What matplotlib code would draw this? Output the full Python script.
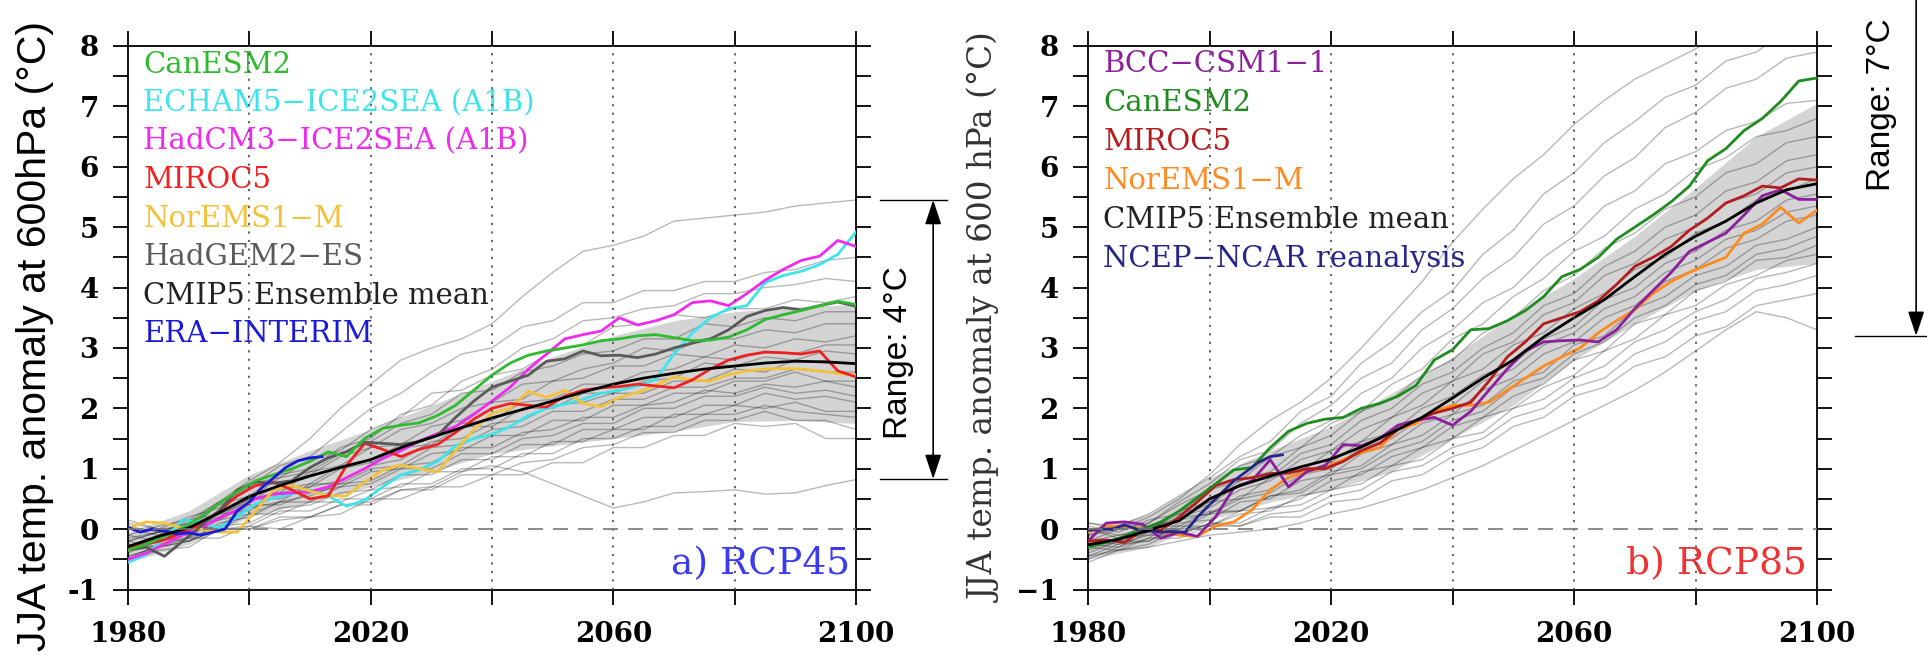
import matplotlib.pyplot as plt
from matplotlib.ticker import MultipleLocator

plt.rcParams['font.family'] = 'DejaVu Serif'

years = list(range(1980, 2101, 3))
years5 = list(range(1980, 2101, 5))
years10 = list(range(1980, 2101, 10))
obs_years = list(range(1980, 2013, 2))

# ---- a) RCP45 ----
a_canesm2 = [-0.35, -0.25, -0.12, 0.02, 0.2, 0.42, 0.62, 0.8, 0.9, 1.0, 1.12, 1.28, 1.2, 1.5, 1.67, 1.72,
             1.76, 1.88, 2.05, 2.3, 2.55, 2.75, 2.88, 2.95, 3.0, 3.05, 3.12, 3.15, 3.2, 3.22, 3.17, 3.12,
             3.13, 3.18, 3.3, 3.47, 3.55, 3.62, 3.7, 3.77, 3.72]
a_echam5 = [-0.55, -0.42, -0.15, 0.15, 0.12, 0.02, 0.2, 0.42, 0.52, 0.58, 0.65, 0.55, 0.38, 0.48, 0.7, 0.9,
            0.98, 1.12, 1.38, 1.5, 1.57, 1.7, 1.88, 2.0, 2.07, 2.15, 2.25, 2.3, 2.37, 2.48, 2.9, 3.25,
            3.5, 3.65, 3.7, 4.08, 4.2, 4.27, 4.38, 4.55, 4.92]
a_hadcm3 = [-0.5, -0.4, -0.25, -0.1, 0.02, 0.18, 0.32, 0.5, 0.58, 0.6, 0.62, 0.7, 0.85, 1.0, 1.17, 1.3,
            1.46, 1.58, 1.7, 1.9, 2.12, 2.35, 2.65, 2.9, 3.15, 3.22, 3.28, 3.5, 3.38, 3.45, 3.55, 3.75,
            3.78, 3.7, 3.9, 4.12, 4.3, 4.45, 4.52, 4.78, 4.68]
a_miroc5 = [-0.3, -0.25, -0.18, -0.05, 0.08, 0.3, 0.55, 0.72, 0.78, 0.65, 0.5, 0.55, 1.05, 1.42, 1.32, 1.2,
            1.32, 1.4, 1.6, 1.82, 2.0, 2.08, 2.05, 2.02, 2.2, 2.3, 2.34, 2.36, 2.4, 2.37, 2.34, 2.47,
            2.65, 2.8, 2.88, 2.93, 2.92, 2.9, 2.95, 2.62, 2.52]
a_noresm = [0.02, 0.12, 0.1, 0.02, 0.0, -0.05, -0.05, 0.3, 0.65, 0.72, 0.63, 0.55, 0.55, 0.78, 0.98, 1.06,
            1.0, 0.95, 1.3, 1.65, 1.92, 2.0, 2.28, 2.18, 2.3, 2.08, 2.03, 2.18, 2.26, 2.38, 2.52, 2.47,
            2.45, 2.56, 2.62, 2.65, 2.66, 2.65, 2.62, 2.58, 2.55]
a_hadgem2 = [-0.35, -0.3, -0.45, -0.2, 0.05, 0.3, 0.65, 0.78, 0.76, 0.8, 1.02, 1.18, 1.28, 1.44, 1.42, 1.4,
             1.45, 1.55, 1.85, 2.12, 2.35, 2.45, 2.55, 2.78, 2.82, 2.95, 2.87, 2.88, 2.84, 2.9, 3.0, 3.08,
             3.15, 3.3, 3.52, 3.62, 3.67, 3.63, 3.7, 3.76, 3.69]
a_era = [0.03, -0.05, 0.0, -0.03, -0.08, -0.06, -0.1, -0.05, 0.0, 0.3, 0.45, 0.68, 0.85, 1.02, 1.13, 1.18, 1.2]
a_mean = [-0.29, -0.12, 0.02, 0.27, 0.54, 0.72, 0.88, 1.02, 1.15, 1.35, 1.52, 1.68, 1.84, 1.98, 2.12, 2.27,
          2.4, 2.5, 2.58, 2.65, 2.7, 2.75, 2.78, 2.77, 2.74]
a_band_low = [-0.55, -0.25, 0.2, 0.45, 0.7, 0.95, 1.25, 1.38, 1.5, 1.62, 1.78, 1.8, 1.75]
a_band_high = [-0.05, 0.3, 0.9, 1.3, 1.65, 2.05, 2.45, 2.85, 3.2, 3.45, 3.6, 3.68, 3.72]
a_models = [
    [-0.2, -0.05, 0.1, 0.45, 0.8, 1.1, 1.5, 2.0, 2.4, 2.8, 3.0, 3.15, 3.4, 3.85, 4.25, 4.6, 4.7, 4.85, 5.1, 5.15, 5.2, 5.25, 5.35, 5.4, 5.45],
    [-0.1, 0.05, 0.15, 0.45, 0.7, 1.05, 1.2, 1.6, 2.0, 2.25, 2.6, 2.9, 3.0, 3.35, 3.45, 3.75, 3.75, 3.95, 3.95, 4.1, 4.1, 4.25, 4.3, 4.45, 4.5],
    [-0.3, -0.1, 0.0, 0.4, 0.55, 0.9, 1.0, 1.35, 1.5, 1.9, 2.05, 2.45, 2.65, 3.0, 3.15, 3.45, 3.5, 3.65, 3.7, 3.9, 3.9, 4.0, 4.05, 4.15, 4.1],
    [0.1, 0.0, 0.2, 0.35, 0.75, 0.85, 1.15, 1.3, 1.65, 1.85, 2.25, 2.3, 2.55, 2.65, 2.95, 3.05, 3.35, 3.4, 3.55, 3.5, 3.65, 3.65, 3.8, 3.75, 3.85],
    [-0.4, -0.15, -0.05, 0.3, 0.5, 0.85, 0.95, 1.25, 1.45, 1.75, 1.9, 2.25, 2.3, 2.6, 2.7, 2.9, 2.95, 3.15, 3.15, 3.4, 3.35, 3.5, 3.45, 3.6, 3.6],
    [-0.2, -0.05, 0.0, 0.25, 0.45, 0.75, 0.9, 1.2, 1.35, 1.65, 1.75, 2.0, 2.1, 2.4, 2.45, 2.65, 2.75, 3.0, 2.95, 3.15, 3.15, 3.3, 3.25, 3.4, 3.4],
    [0.0, -0.1, 0.15, 0.25, 0.5, 0.6, 0.95, 1.05, 1.35, 1.4, 1.7, 1.8, 2.1, 2.15, 2.45, 2.5, 2.7, 2.7, 2.9, 2.85, 3.05, 3.0, 3.15, 3.1, 3.2],
    [-0.5, -0.25, -0.15, 0.2, 0.35, 0.65, 0.75, 1.05, 1.15, 1.4, 1.5, 1.75, 1.8, 2.1, 2.15, 2.4, 2.4, 2.6, 2.65, 2.85, 2.8, 2.95, 2.9, 3.05, 3.05],
    [-0.3, -0.15, -0.05, 0.25, 0.3, 0.6, 0.7, 1.0, 1.1, 1.35, 1.4, 1.7, 1.7, 2.0, 2.0, 2.25, 2.25, 2.45, 2.5, 2.75, 2.7, 2.85, 2.8, 2.95, 2.9],
    [-0.1, -0.2, 0.05, 0.2, 0.5, 0.5, 0.7, 0.8, 1.05, 1.15, 1.45, 1.5, 1.75, 1.8, 2.05, 2.1, 2.25, 2.25, 2.45, 2.45, 2.65, 2.6, 2.8, 2.75, 2.75],
    [-0.25, -0.3, 0.0, 0.05, 0.35, 0.45, 0.75, 0.75, 1.0, 1.05, 1.35, 1.4, 1.65, 1.7, 1.95, 1.95, 2.15, 2.15, 2.35, 2.35, 2.5, 2.5, 2.65, 2.6, 2.6],
    [0.05, -0.05, 0.1, 0.15, 0.4, 0.4, 0.6, 0.7, 0.95, 1.0, 1.25, 1.3, 1.55, 1.55, 1.8, 1.8, 2.05, 2.05, 2.25, 2.25, 2.45, 2.45, 2.6, 2.45, 2.45],
    [-0.45, -0.3, -0.2, 0.1, 0.2, 0.45, 0.55, 0.75, 0.8, 1.05, 1.1, 1.35, 1.35, 1.6, 1.65, 1.85, 1.85, 2.05, 2.1, 2.3, 2.25, 2.4, 2.35, 2.45, 2.35],
    [-0.15, -0.05, -0.1, 0.15, 0.25, 0.45, 0.45, 0.7, 0.75, 1.0, 1.0, 1.25, 1.25, 1.5, 1.55, 1.75, 1.75, 2.0, 2.0, 2.2, 2.2, 2.35, 2.25, 2.3, 2.2],
    [-0.35, -0.15, -0.15, 0.05, 0.1, 0.35, 0.4, 0.6, 0.65, 0.9, 0.9, 1.15, 1.15, 1.4, 1.4, 1.65, 1.65, 1.85, 1.85, 2.05, 2.05, 2.25, 2.15, 2.2, 2.1],
    [0.15, 0.0, 0.05, 0.0, 0.25, 0.25, 0.45, 0.45, 0.65, 0.7, 0.95, 0.95, 1.2, 1.2, 1.45, 1.45, 1.65, 1.65, 1.9, 1.9, 2.05, 2.0, 2.1, 1.95, 1.95],
    [-0.55, -0.35, -0.3, 0.0, 0.05, 0.3, 0.3, 0.5, 0.5, 0.75, 0.75, 1.0, 1.0, 1.25, 1.25, 1.5, 1.5, 1.7, 1.7, 1.9, 1.9, 2.05, 1.95, 1.9, 1.85],
    [-0.3, -0.15, -0.2, 0.0, 0.0, 0.2, 0.2, 0.4, 0.45, 0.65, 0.65, 0.9, 0.9, 1.1, 1.15, 1.35, 1.4, 1.6, 1.6, 1.8, 1.8, 1.95, 1.8, 1.8, 1.65],
    [-0.2, -0.3, -0.15, -0.15, 0.05, 0.0, 0.2, 0.25, 0.5, 0.5, 0.7, 0.7, 0.9, 0.9, 1.1, 1.1, 1.35, 1.35, 1.55, 1.55, 1.75, 1.7, 1.75, 1.5, 1.5],
    [-0.45, -0.3, -0.2, 0.0, 0.0, 0.15, 0.2, 0.4, 0.4, 0.65, 0.7, 0.95, 1.05, 0.95, 0.75, 0.55, 0.35, 0.45, 0.6, 0.62, 0.65, 0.58, 0.6, 0.72, 0.82],
]

# ---- b) RCP85 ----
b_bcc = [-0.2, 0.1, 0.12, 0.08, -0.15, -0.05, -0.12, 0.2, 0.68, 0.8, 1.15, 0.7, 0.95, 1.05, 1.4, 1.38,
         1.5, 1.72, 1.8, 1.85, 1.72, 1.95, 2.3, 2.65, 2.95, 3.1, 3.12, 3.13, 3.1, 3.3, 3.65, 3.95,
         4.25, 4.6, 4.75, 4.9, 5.2, 5.52, 5.62, 5.46, 5.46]
b_canesm2 = [-0.3, -0.22, -0.12, 0.0, 0.12, 0.3, 0.52, 0.75, 0.98, 1.02, 1.35, 1.62, 1.75, 1.82, 1.85, 2.0,
             2.08, 2.2, 2.38, 2.8, 2.97, 3.3, 3.32, 3.45, 3.62, 3.85, 4.18, 4.3, 4.5, 4.8, 5.0, 5.2,
             5.42, 5.68, 6.1, 6.3, 6.6, 6.8, 7.08, 7.42, 7.47]
b_miroc5 = [-0.2, -0.18, -0.22, -0.02, -0.02, 0.2, 0.45, 0.72, 0.82, 0.85, 0.92, 0.93, 1.0, 1.0, 1.12, 1.3,
            1.42, 1.65, 1.8, 1.92, 2.0, 2.1, 2.45, 2.85, 3.1, 3.4, 3.5, 3.6, 3.78, 4.05, 4.35, 4.5,
            4.68, 4.95, 5.15, 5.4, 5.52, 5.68, 5.65, 5.8, 5.78]
b_noresm = [-0.05, 0.05, 0.05, 0.0, -0.05, -0.1, -0.12, 0.05, 0.12, 0.32, 0.65, 0.86, 0.95, 1.02, 1.15, 1.27,
            1.35, 1.65, 1.75, 1.95, 2.05, 2.05, 2.1, 2.3, 2.5, 2.7, 2.85, 3.0, 3.25, 3.45, 3.63, 3.9,
            4.1, 4.25, 4.38, 4.5, 4.9, 5.05, 5.33, 5.07, 5.28]
b_ncep = [-0.02, 0.0, 0.0, 0.07, 0.0, -0.02, -0.05, -0.04, -0.05, 0.2, 0.4, 0.6, 0.8, 0.95, 1.1, 1.2, 1.23]
b_mean = [-0.26, -0.17, -0.02, 0.14, 0.5, 0.72, 0.88, 1.03, 1.16, 1.36, 1.6, 1.85, 2.17, 2.5, 2.8, 3.18,
          3.5, 3.8, 4.18, 4.55, 4.85, 5.1, 5.4, 5.62, 5.72]
b_band_low = [-0.5, -0.3, 0.15, 0.45, 0.65, 0.95, 1.5, 2.05, 2.8, 3.4, 3.95, 4.3, 4.4]
b_band_high = [-0.05, 0.25, 0.85, 1.3, 1.7, 2.25, 2.85, 3.55, 4.15, 4.85, 5.65, 6.5, 7.05]
b_models = [
    [-0.1, 0.0, 0.2, 0.5, 0.9, 1.4, 1.8, 2.1, 2.5, 3.0, 3.55, 4.1, 4.75, 5.3, 5.8, 6.2, 6.7, 7.1, 7.45, 7.7, 7.95, 8.3, 8.6, 8.9, 9.2],
    [0.1, 0.05, 0.25, 0.55, 0.85, 1.2, 1.45, 1.95, 2.2, 2.75, 3.1, 3.6, 3.95, 4.55, 4.95, 5.55, 5.9, 6.4, 6.75, 7.15, 7.35, 7.75, 7.9, 8.25, 8.4],
    [-0.3, -0.15, 0.1, 0.45, 0.75, 1.15, 1.3, 1.75, 2.05, 2.5, 2.75, 3.3, 3.65, 4.15, 4.5, 5.05, 5.35, 5.85, 6.15, 6.65, 6.9, 7.3, 7.45, 7.8, 7.9],
    [-0.2, 0.0, 0.1, 0.4, 0.65, 1.05, 1.2, 1.55, 1.8, 2.25, 2.5, 3.0, 3.3, 3.75, 4.0, 4.5, 4.85, 5.35, 5.6, 6.05, 6.25, 6.6, 6.75, 7.05, 7.1],
    [0.05, -0.05, 0.15, 0.25, 0.65, 0.8, 1.2, 1.35, 1.75, 1.95, 2.4, 2.65, 3.15, 3.4, 3.85, 4.15, 4.6, 4.85, 5.3, 5.55, 5.95, 6.15, 6.5, 6.6, 6.8],
    [-0.4, -0.2, -0.05, 0.3, 0.45, 0.8, 0.95, 1.35, 1.55, 1.95, 2.15, 2.55, 2.8, 3.25, 3.5, 3.95, 4.2, 4.65, 4.9, 5.3, 5.5, 5.9, 6.05, 6.4, 6.5],
    [-0.2, -0.1, 0.0, 0.25, 0.4, 0.75, 0.85, 1.25, 1.4, 1.8, 2.0, 2.4, 2.6, 3.0, 3.25, 3.7, 3.9, 4.35, 4.6, 5.0, 5.2, 5.6, 5.75, 6.1, 6.2],
    [-0.5, -0.3, -0.15, 0.2, 0.35, 0.65, 0.8, 1.15, 1.3, 1.65, 1.85, 2.25, 2.45, 2.9, 3.1, 3.55, 3.75, 4.2, 4.4, 4.8, 5.0, 5.4, 5.55, 5.9, 6.0],
    [0.0, -0.15, 0.05, 0.15, 0.45, 0.5, 0.85, 0.95, 1.3, 1.45, 1.85, 2.05, 2.45, 2.65, 3.05, 3.25, 3.65, 3.9, 4.3, 4.5, 4.9, 5.1, 5.45, 5.6, 5.8],
    [-0.3, -0.15, -0.1, 0.15, 0.25, 0.55, 0.65, 0.95, 1.1, 1.45, 1.6, 2.0, 2.2, 2.55, 2.75, 3.15, 3.35, 3.8, 4.0, 4.4, 4.6, 4.95, 5.1, 5.45, 5.55],
    [-0.1, 0.05, 0.0, 0.2, 0.25, 0.5, 0.6, 0.9, 1.0, 1.35, 1.5, 1.85, 2.05, 2.45, 2.65, 3.05, 3.25, 3.65, 3.85, 4.25, 4.45, 4.8, 4.95, 5.25, 5.35],
    [-0.45, -0.25, -0.2, 0.1, 0.15, 0.45, 0.5, 0.8, 0.9, 1.25, 1.4, 1.75, 1.9, 2.3, 2.5, 2.9, 3.1, 3.5, 3.7, 4.1, 4.3, 4.65, 4.8, 5.1, 5.2],
    [-0.25, -0.3, -0.05, 0.0, 0.25, 0.3, 0.55, 0.65, 0.95, 1.05, 1.4, 1.55, 1.9, 2.05, 2.45, 2.6, 3.05, 3.2, 3.65, 3.85, 4.2, 4.35, 4.7, 4.8, 5.0],
    [0.1, 0.0, 0.05, 0.05, 0.3, 0.3, 0.55, 0.6, 0.9, 1.0, 1.3, 1.45, 1.8, 1.95, 2.35, 2.5, 2.9, 3.1, 3.5, 3.7, 4.05, 4.2, 4.55, 4.65, 4.85],
    [-0.35, -0.2, -0.2, 0.05, 0.05, 0.3, 0.35, 0.5, 0.8, 0.9, 1.2, 1.35, 1.7, 1.85, 2.2, 2.4, 2.8, 2.95, 3.4, 3.55, 3.95, 4.1, 4.45, 4.5, 4.7],
    [-0.55, -0.35, -0.25, 0.0, 0.05, 0.25, 0.3, 0.55, 0.65, 0.95, 1.05, 1.35, 1.5, 1.85, 2.0, 2.35, 2.55, 2.95, 3.15, 3.55, 3.7, 4.05, 4.2, 4.45, 4.55],
    [-0.2, -0.25, -0.1, -0.1, 0.1, 0.1, 0.35, 0.4, 0.65, 0.75, 1.05, 1.15, 1.5, 1.6, 2.0, 2.15, 2.5, 2.7, 3.1, 3.3, 3.6, 3.8, 4.15, 4.25, 4.4],
    [0.0, -0.1, -0.05, -0.1, 0.1, 0.05, 0.25, 0.3, 0.55, 0.65, 0.95, 1.05, 1.35, 1.5, 1.85, 2.0, 2.35, 2.5, 2.9, 3.1, 3.45, 3.6, 3.95, 4.05, 4.2],
    [-0.3, -0.35, -0.15, -0.15, 0.05, 0.05, 0.2, 0.2, 0.45, 0.5, 0.8, 0.9, 1.2, 1.35, 1.7, 1.85, 2.2, 2.35, 2.7, 2.85, 3.2, 3.35, 3.7, 3.8, 3.9],
    [-0.45, -0.35, -0.3, -0.2, -0.1, -0.05, 0.0, 0.1, 0.25, 0.35, 0.5, 0.65, 0.85, 1.05, 1.3, 1.55, 1.8, 2.05, 2.3, 2.6, 2.95, 3.3, 3.6, 3.5, 3.3],
]

a_names = ['CanESM2', 'ECHAM5−ICE2SEA (A1B)', 'HadCM3−ICE2SEA (A1B)', 'MIROC5', 'NorEMS1−M',
           'HadGEM2−ES', 'CMIP5 Ensemble mean', 'ERA−INTERIM']
a_colors = ['#2fbb2f', '#3ee4ec', '#ee2bee', '#ee2222', '#f2c23a', '#5a5a5a', '#222222', '#1a1ad6']
b_names = ['BCC−CSM1−1', 'CanESM2', 'MIROC5', 'NorEMS1−M', 'CMIP5 Ensemble mean', 'NCEP−NCAR reanalysis']
b_colors = ['#8b1f9c', '#1f8c1f', '#b31d1d', '#ff8a1f', '#222222', '#25258a']

xticks = [1980, 2000, 2020, 2040, 2060, 2080, 2100]
xticklabels = ['1980', '', '2020', '', '2060', '', '2100']
yticks = [-1, 0, 1, 2, 3, 4, 5, 6, 7, 8]
a_yticklabels = ['-1', '0', '1', '2', '3', '4', '5', '6', '7', '8']
b_yticklabels = ['−1', '0', '1', '2', '3', '4', '5', '6', '7', '8']
a_range = (0.83, 5.45)
b_range_low = 3.2


def style_axes(ax, ylabels):
    ax.set_xlim(1980, 2100)
    ax.set_ylim(-1, 8)
    ax.set_xticks(xticks, xticklabels)
    ax.set_yticks(yticks, ylabels)
    ax.yaxis.set_minor_locator(MultipleLocator(0.5))
    ax.tick_params(which='both', direction='out', length=11, width=1.3,
                   top=True, right=True, labelsize=20)
    ax.tick_params(axis='x', pad=12)
    ax.tick_params(axis='y', pad=10)
    for lab in ax.get_xticklabels() + ax.get_yticklabels():
        lab.set_fontweight('bold')
    for s in ax.spines.values():
        s.set_linewidth(1.3)
    for yr in xticks[1:-1]:
        ax.axvline(yr, color='#555555', lw=1.3, ls=(0, (1.2, 3.5)), zorder=6)
    ax.axhline(0, color='#777777', lw=1.2, ls=(0, (9, 6)), zorder=6)


def legend_text(ax, names, colors, y0, step):
    tr = ax.get_yaxis_transform()
    for i, (n, c) in enumerate(zip(names, colors)):
        ax.text(0.021, y0 - i * step, n, color=c, fontsize=21, transform=tr,
                ha='left', va='center')


fig = plt.figure(figsize=(19.27, 6.65), dpi=100)
ax1 = fig.add_axes([128 / 1927, 75.5 / 665, 728 / 1927, 543.5 / 665])
ax2 = fig.add_axes([1088 / 1927, 75.5 / 665, 729 / 1927, 543.5 / 665])

# panel a
ax1.fill_between(years10, a_band_low, a_band_high, color='#d4d4d4', lw=0, zorder=1)
for m in a_models:
    ax1.plot(years5, m, color='black', alpha=0.28, lw=1.0, zorder=2)
ax1.plot(years, a_echam5, color=a_colors[1], lw=2, zorder=3)
ax1.plot(years, a_hadcm3, color=a_colors[2], lw=2, zorder=3)
ax1.plot(years, a_noresm, color=a_colors[4], lw=2, zorder=3)
ax1.plot(years, a_miroc5, color=a_colors[3], lw=2, zorder=3)
ax1.plot(years, a_hadgem2, color=a_colors[5], lw=2, zorder=3)
ax1.plot(years, a_canesm2, color=a_colors[0], lw=2, zorder=3)
ax1.plot(obs_years, a_era, color=a_colors[7], lw=2, zorder=4)
ax1.plot(years5, a_mean, color='black', lw=2, zorder=4)
style_axes(ax1, a_yticklabels)
legend_text(ax1, a_names, a_colors, 7.69, 0.637)
ax1.text(0.992, -0.58, 'a) RCP45', transform=ax1.get_yaxis_transform(), ha='right', va='center',
         fontsize=27, color='#3a3aee')

# panel b
ax2.fill_between(years10, b_band_low, b_band_high, color='#d4d4d4', lw=0, zorder=1)
for m in b_models:
    ax2.plot(years5, m, color='black', alpha=0.28, lw=1.0, zorder=2)
ax2.plot(years, b_noresm, color=b_colors[3], lw=2, zorder=3)
ax2.plot(years, b_bcc, color=b_colors[0], lw=2, zorder=3)
ax2.plot(years, b_miroc5, color=b_colors[2], lw=2, zorder=3)
ax2.plot(years, b_canesm2, color=b_colors[1], lw=2, zorder=3)
ax2.plot(obs_years, b_ncep, color=b_colors[5], lw=2, zorder=4)
ax2.plot(years5, b_mean, color='black', lw=2, zorder=4)
style_axes(ax2, b_yticklabels)
legend_text(ax2, b_names, b_colors, 7.70, 0.645)
ax2.text(0.986, -0.58, 'b) RCP85', transform=ax2.get_yaxis_transform(), ha='right', va='center',
         fontsize=27, color='#ee3333')

# range annotations
tr1 = ax1.get_yaxis_transform()
for yv in a_range:
    ax1.plot([1.033, 1.125], [yv, yv], transform=tr1, color='black', lw=1, clip_on=False)
ax1.annotate('', xy=(1.106, a_range[1]), xytext=(1.106, a_range[0]), xycoords=tr1, textcoords=tr1,
             arrowprops=dict(arrowstyle='<|-|>,head_length=0.75,head_width=0.25', color='black',
                             lw=1.2, mutation_scale=20, shrinkA=0, shrinkB=0),
             annotation_clip=False)
ax1.text(1.058, 2.93, 'Range: 4°C', transform=tr1, rotation=90, ha='center', va='center',
         fontsize=24, family='Liberation Sans')

tr2 = ax2.get_yaxis_transform()
ax2.plot([1.052, 1.16], [b_range_low, b_range_low], transform=tr2, color='black', lw=1, clip_on=False)
ax2.annotate('', xy=(1.136, b_range_low), xytext=(1.136, b_range_low + 7.4), xycoords=tr2, textcoords=tr2,
             arrowprops=dict(arrowstyle='-|>,head_length=0.75,head_width=0.25', color='black',
                             lw=1.2, mutation_scale=20, shrinkA=0, shrinkB=0),
             annotation_clip=False)
ax2.text(1.089, 7.02, 'Range: 7°C', transform=tr2, rotation=90, ha='center', va='center',
         fontsize=24, family='Liberation Sans')

fig.text(35 / 1927, 1 - 336 / 665, 'JJA temp. anomaly at 600hPa (°C)', rotation=90, ha='center',
         va='center', fontsize=29.5, family='Liberation Sans')
fig.text(985 / 1927, 1 - 318 / 665, 'JJA temp. anomaly at 600 hPa (°C)', rotation=90, ha='center',
         va='center', fontsize=23.5, color='#333333')

fig.savefig('out.png', dpi=100)
